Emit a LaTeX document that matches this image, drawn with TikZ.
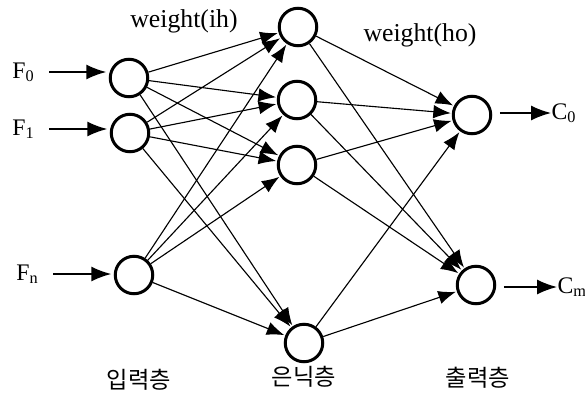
\documentclass[tikz,border=0pt]{standalone}
\usepackage{fontspec}
\setmainfont{Liberation Serif}
\newfontfamily\krfont{Noto Sans CJK KR}
\usetikzlibrary{arrows.meta, calc, positioning}

\newcommand{\lowidx}[1]{\raisebox{-0.25ex}{\fontsize{6.5}{7}\selectfont #1}}

\begin{document}
\begin{tikzpicture}[x=0.4pt, y=-0.4pt, >={Latex[length=7pt, width=5.4pt]},
  neuron/.style={draw, circle, line width=1.2pt, minimum size=15pt, inner sep=0pt},
  link/.style={->, line width=0.45pt, shorten >=0.4pt},
  feed/.style={->, line width=0.6pt, >={Latex[length=8pt, width=6pt]}},
  iolab/.style={inner sep=0pt, font=\fontsize{9.5}{11}\selectfont},
  layerlab/.style={inner sep=0pt, font=\krfont\fontsize{9.3}{11}\selectfont},
  wlab/.style={inner sep=0pt, font=\fontsize{10.3}{12}\selectfont}]
  \useasboundingbox (0,0) rectangle (585,393);
  % input layer
  \node[neuron] (in0) at (129,78) {};
  \node[neuron] (in1) at (130,133) {};
  \node[neuron] (inn) at (134,275) {};
  % hidden layer
  \node[neuron] (h1) at (298,27) {};
  \node[neuron] (h2) at (297,100) {};
  \node[neuron] (h3) at (297,165) {};
  \node[neuron] (h4) at (304,343) {};
  % output layer
  \node[neuron] (o1) at (472,115) {};
  \node[neuron] (o2) at (476,285) {};
  % inputs / outputs
  \node[iolab] (f0) at (23,72) {F\lowidx{0}};
  \node[iolab] (f1) at (23,129) {F\lowidx{1}};
  \node[iolab] (fn) at (27,274) {F\lowidx{n}};
  \node[iolab, anchor=west] (c0) at (551,113) {C\lowidx{0}};
  \node[iolab, anchor=west] (cm) at (557,287) {C\lowidx{m}};
  \draw[feed] ([xshift=6pt]f0.east) -- ([xshift=-1pt]f0.east -| in0.west);
  \draw[feed] ([xshift=6pt]f1.east) -- ([xshift=-1pt]f1.east -| in1.west);
  \draw[feed] ([xshift=6pt]fn.east) -- ([xshift=-1pt]fn.east -| inn.west);
  \draw[feed] ([xshift=3pt]o1.east |- c0.west) -- (c0.west);
  \draw[feed] ([xshift=3pt]o2.east |- cm.west) -- (cm.west);
  % weights
  \foreach \i in {in0,in1,inn}
    \foreach \h in {h1,h2,h3,h4}
      \draw[link] (\i) -- (\h);
  \foreach \h in {h1,h2,h3,h4}
    \foreach \o in {o1,o2}
      \draw[link] (\h) -- (\o);
  % labels
  \node[wlab] (wih) at (184,21) {weight(ih)};
  \node[wlab] (who) at (420,35) {weight(ho)};
  \node[layerlab] (lin) at (139,380) {입력층};
  \node[layerlab] (lhid) at (304,377) {은닉층};
  \node[layerlab] (lout) at (478,378) {출력층};
\end{tikzpicture}
\end{document}
